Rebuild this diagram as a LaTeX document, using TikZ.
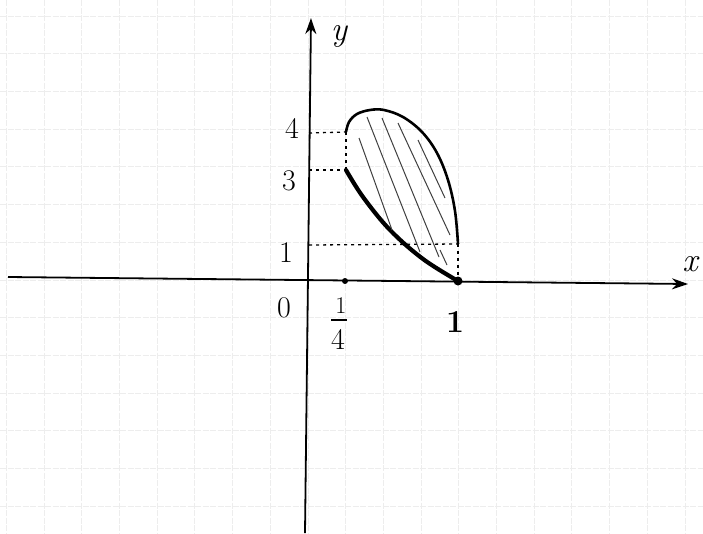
\documentclass[tikz,border=0pt]{standalone}
\usetikzlibrary{arrows.meta}
\begin{document}
\begin{tikzpicture}[x=1pt,y=-1pt,
  gridline/.style={black!7,line width=0.9pt,dash pattern=on 6pt off 1.5pt},
  axis/.style={line width=1.8pt,-{Stealth[length=16pt,width=11pt]}},
  dotline/.style={line width=1.3pt,dash pattern=on 3pt off 4pt},
  bound/.style={line width=2.6pt,line join=round},
  thickbound/.style={line width=4.2pt,line cap=round},
  hatch/.style={black!75,line width=1pt},
  lab/.style={font=\fontsize{34}{36}\selectfont\itshape,inner sep=0pt},
  num/.style={font=\fontsize{30}{32}\selectfont,inner sep=0pt}]
\useasboundingbox (0,0) rectangle (703,533);
\fill[white] (0,0) rectangle (703,533);
% grid paper
\foreach \g in {0,...,18} \draw[gridline] ({6.4+\g*37.7},0) -- ({6.4+\g*37.7},533);
\foreach \g in {0,...,14} \draw[gridline] (0,{16.1+\g*37.7}) -- (703,{16.1+\g*37.7});
% axes
\coordinate (xs) at (8,277);
\coordinate (xe) at (688,284);
\coordinate (ys) at (305,533);
\coordinate (ye) at (311,18);
\draw[axis] (xs) -- (xe);
\draw[axis] (ys) -- (ye);
\node[lab] (xl) at (690,264) {x};
\node[lab] (yl) at (339,36) {y};
% key points
\coordinate (A4) at (346,132);
\coordinate (A3) at (346,170);
\coordinate (B1) at (458,244);
\coordinate (P) at (458,281);
\coordinate (Q) at (345,281);
\coordinate (Y4) at (309,133);
\coordinate (Y3) at (309,170);
\coordinate (Y1) at (309,245);
% dotted guides
\draw[dotline] (Y4) -- (A4);
\draw[dotline] (Y3) -- (A3);
\draw[dotline] (Y1) -- (B1);
\draw[dotline] (A4) -- (A3);
\draw[dotline] (B1) -- (P);
% region boundary
\draw[bound] plot[smooth,tension=0.6] coordinates {(346,132) (349,122) (357,114) (370,110) (384,110) (403,117) (422,132) (437,153) (448,180) (455,211) (458,244)};
\draw[thickbound] plot[smooth,tension=0.6] coordinates {(346,170) (363,197) (390,230) (423,259) (458,281)};
% hatching
\draw[hatch] (359,138) -- (392,230);
\draw[hatch] (367,117) -- (420,252);
\draw[hatch] (382,118) -- (439,257);
\draw[hatch] (398,123) -- (450,235);
\draw[hatch] (418,140) -- (445,198);
\draw[hatch] (440,250) -- (447,265);
% tick dots
\fill (Q) circle (3pt);
\fill (P) circle (4.5pt);
% labels
\node[num] (l4) at (292,128) {4};
\node[num] (l3) at (289,181) {3};
\node[num] (l1) at (286,253) {1};
\node[num] (l0) at (284,308) {0};
\node[num,font=\fontsize{24}{26}\selectfont] (lqn) at (341,306) {1};
\node[num] (lqd) at (338,339) {4};
\draw[line width=1.6pt] ([yshift=-6pt]lqn.south west) ++(-4pt,0) coordinate (bar1) -- ([yshift=-6pt]lqn.south east) ++(4pt,0) coordinate (bar2);
\node[num,font=\fontsize{32}{34}\selectfont\bfseries] (lone) at (455,322) {1};
\end{tikzpicture}
\end{document}
